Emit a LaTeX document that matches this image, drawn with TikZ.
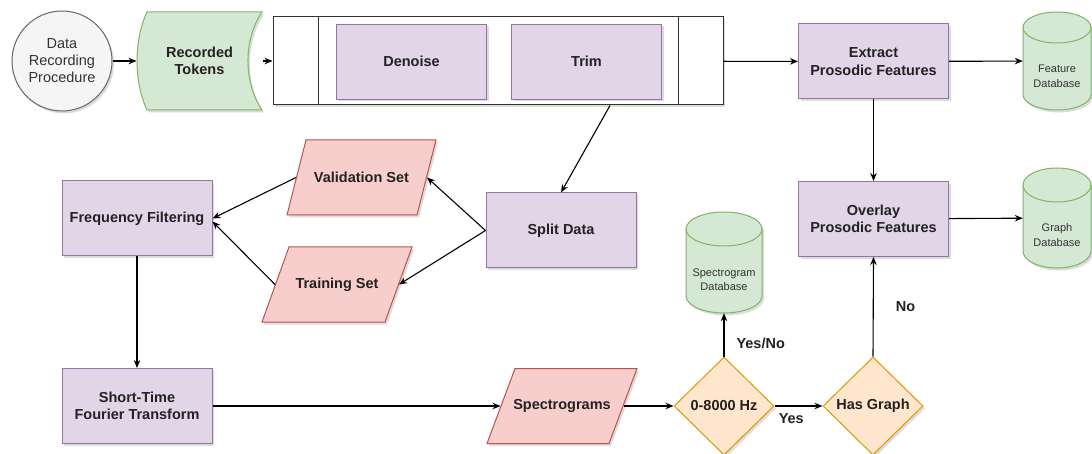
\documentclass[tikz,border=0pt]{standalone}
\usepackage{fontspec}
\setmainfont{Liberation Sans}
\usetikzlibrary{shapes.geometric,arrows.meta,shadows,calc}
\definecolor{pfill}{HTML}{E1D5E7}
\definecolor{pdraw}{HTML}{9673A6}
\definecolor{gfill}{HTML}{D5E8D4}
\definecolor{gdraw}{HTML}{82B366}
\definecolor{rfill}{HTML}{F8CECC}
\definecolor{rdraw}{HTML}{B85450}
\definecolor{ofill}{HTML}{FFE6CC}
\definecolor{odraw}{HTML}{D79B00}
\definecolor{cfill}{HTML}{F5F5F5}
\definecolor{cdraw}{HTML}{666666}
\definecolor{txt}{HTML}{222222}
\definecolor{gtxt}{HTML}{333333}
\newcommand\mycyl[7]{% name, cx, ytop, ybot, rx, ry, text
  \path[draw=gdraw,fill=gfill,line width=1pt,shad]
    (#2-#5,#3+#6) -- (#2-#5,#4-#6)
    arc[start angle=180,end angle=360,x radius=#5pt,y radius=#6pt]
    -- (#2+#5,#3+#6)
    arc[start angle=0,end angle=180,x radius=#5pt,y radius=#6pt] -- cycle;
  \draw[draw=gdraw,line width=1pt] (#2-#5,#3+#6)
    arc[start angle=180,end angle=360,x radius=#5pt,y radius=#6pt];
  \node[inner sep=0pt,minimum width=2*#5 pt,minimum height=#4-#3 pt] (#1) at (#2,{(#3+#4)/2}) {};
  \node[dbtext] (#1t) at (#2,{(#3+2*#6+#4)/2}) {#7};
}
\newcommand\mypar[6]{% name, cx, cy, W, skew, text
  \path[draw=rdraw,fill=rfill,line width=1pt,shad]
    (#2-#4/2+#5,#3-37.5) -- (#2+#4/2,#3-37.5) -- (#2+#4/2-#5,#3+37.5)
    -- (#2-#4/2,#3+37.5) -- cycle;
  \node[base,minimum width=#4pt-#5pt,minimum height=75pt] (#1) at (#2,#3) {#6};
}
\begin{document}
\begin{tikzpicture}[x=1pt,y=-1pt,
  shad/.style={drop shadow={shadow xshift=2pt,shadow yshift=-2.5pt,opacity=0.25,fill=black!55}},
  base/.style={align=center,inner sep=0pt,text=txt,font=\bfseries\fontsize{14.5}{17.5}\selectfont,line width=1pt},
  proc/.style={base,rectangle,draw=pdraw,fill=pfill,minimum width=150pt,minimum height=75pt,shad},
  dec/.style={base,diamond,draw=odraw,fill=ofill,minimum width=100pt,minimum height=98pt,shad},
  arr/.style={-{Stealth[length=8pt,width=6.5pt]},line width=1.1pt,black},
  lab/.style={font=\bfseries\fontsize{14.5}{17}\selectfont,text=txt,inner sep=0pt},
  dbtext/.style={font=\fontsize{11}{14.5}\selectfont,text=gtxt,align=center,inner sep=0pt}]
\useasboundingbox (0,0) rectangle (1092,454);

% start circle
\node[circle,draw=cdraw,fill=cfill,minimum size=100pt,line width=1pt,align=center,
  text=gtxt,font=\fontsize{14.5}{17}\selectfont,inner sep=0pt,shad] (circ) at (62,61) {Data\\Recording\\Procedure};

% recorded tokens (stored data shape)
\path[draw=gdraw,fill=gfill,line width=1pt,shad]
  (147,12) -- (262,12) .. controls (243.3,40) and (243.3,82) .. (262,110)
  -- (147,110) .. controls (133.7,82) and (133.7,40) .. (147,12) -- cycle;
\node[base,minimum width=125pt,minimum height=98pt] (tok) at (199.5,61) {Recorded\\Tokens};

% container
\node[draw=black!80,fill=white,line width=1pt,minimum width=450pt,minimum height=88pt,inner sep=0pt,shad] (big) at (498,61) {};
\draw[black!80,line width=1pt] ([xshift=46pt]big.north west) -- ([xshift=46pt]big.south west);
\draw[black!80,line width=1pt] ([xshift=-45pt]big.north east) -- ([xshift=-45pt]big.south east);
\node[proc,line width=0.8pt,drop shadow={opacity=0}] (den) at (411.5,61.5) {Denoise};
\node[proc,line width=0.8pt,drop shadow={opacity=0}] (trim) at (586.5,61.5) {Trim};

\node[proc] (ext) at (873.5,61.5) {Extract\\Prosodic Features};
\mycyl{fdb}{1057}{12}{110}{34}{15.5}{Feature\\Database}

\node[proc] (split) at (561,230.5) {Split Data};
\mypar{val}{361.5}{177.5}{149}{19}{Validation Set}
\mypar{train}{337}{284.5}{150}{27}{Training Set}
\node[proc] (ff) at (137,218.5) {Frequency Filtering};
\node[proc] (ovl) at (873.5,219) {Overlay\\Prosodic Features};
\mycyl{gdb}{1057}{168}{268}{34}{17}{Graph\\Database}
\mycyl{sdb}{724}{212}{313}{38}{17}{Spectrogram\\Database}

\node[proc] (stft) at (137,406) {Short-Time\\Fourier Transform};
\mypar{spec}{562}{406}{150}{28}{Spectrograms}
\node[dec] (hz) at (724,406) {0-8000 Hz};
\node[dec] (hg) at (873,406) {Has Graph};

% connectors
\draw[arr] (circ) -- (tok);
\draw[arr] (tok) -- (big);
\draw[arr] (big) -- (ext);
\draw[arr] (ext) -- (fdb);
\draw[arr] (ext) -- (ovl);
\draw[arr] (ovl) -- (gdb);
\draw[arr] ([xshift=112pt]big.south) -- (split.north);
\draw[arr] (split.west) -- (val.east);
\draw[arr] (split.west) -- (train.east);
\draw[arr] (val.west) -- (ff.east);
\draw[arr] (train.west) -- ([yshift=-3pt]ff.east);
\draw[arr] (ff) -- (stft);
\draw[arr] (stft) -- (spec);
\draw[arr] (spec) -- (hz);
\draw[arr] (hz) -- (hg) node[lab,pos=0.35,below=7pt] (yes) {Yes};
\draw[arr] (hz.north) -- (sdb.south) node[lab,pos=0.3,right=12pt] (yesno) {Yes/No};
\draw[arr] (hg.north) -- (ovl.south) node[lab,pos=0.5,right=22pt] (no) {No};
\end{tikzpicture}
\end{document}
